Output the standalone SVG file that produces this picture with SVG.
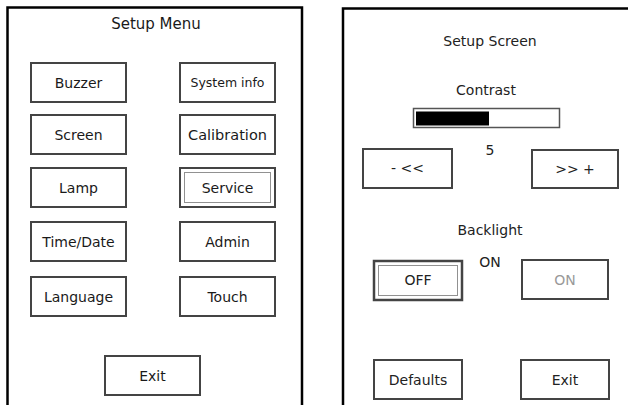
<svg xmlns="http://www.w3.org/2000/svg" width="628" height="405" viewBox="0 0 628 405">
<style>
.panel{fill:none;stroke:#000;stroke-width:2.5}
.btn{fill:#fff;stroke:#444;stroke-width:2}
.focus{fill:none;stroke:#222;stroke-width:1;stroke-dasharray:1 1}
.t{font-family:"DejaVu Sans",sans-serif;font-size:14px;fill:#1a1a1a;text-anchor:middle}
.r{font-family:"DejaVu Sans",sans-serif;font-size:14px;fill:#222;text-anchor:middle}
</style>
<rect width="628" height="405" fill="#fff"/>
<g id="left-panel">
<path class="panel" d="M7.5 410 V7.5 H302 V410"/>
<text class="t" x="156" y="29" style="font-size:15px">Setup Menu</text>
</g>
<g id="buzzer"><rect class="btn" x="31" y="63" width="95" height="39"/><text class="t" x="78.5" y="87.5">Buzzer</text></g>
<g id="system-info"><rect class="btn" x="180" y="63" width="95" height="39"/><text class="t" x="227.5" y="87" style="font-size:12.5px">System info</text></g>
<g id="screen"><rect class="btn" x="31" y="115" width="95" height="39"/><text class="t" x="78.5" y="139.5">Screen</text></g>
<g id="calibration"><rect class="btn" x="180" y="115" width="95" height="39"/><text class="t" x="227.5" y="139.5" style="font-size:14.5px">Calibration</text></g>
<g id="lamp"><rect class="btn" x="31" y="168" width="95" height="39"/><text class="t" x="78.5" y="192.5">Lamp</text></g>
<g id="service"><rect class="btn" x="180" y="168" width="95" height="39"/><rect class="focus" x="184.5" y="172.5" width="86" height="30"/><text class="t" x="227.5" y="192.5">Service</text></g>
<g id="time-date"><rect class="btn" x="31" y="222" width="95" height="39"/><text class="t" x="78.5" y="246.5">Time/Date</text></g>
<g id="admin"><rect class="btn" x="180" y="222" width="95" height="39"/><text class="t" x="227.5" y="246.5">Admin</text></g>
<g id="language"><rect class="btn" x="31" y="277" width="95" height="39"/><text class="t" x="78.5" y="301.5">Language</text></g>
<g id="touch"><rect class="btn" x="180" y="277" width="95" height="39"/><text class="t" x="227.5" y="301.5">Touch</text></g>
<g id="exit-left"><rect class="btn" x="105" y="356" width="95" height="39"/><text class="t" x="152.5" y="380.5">Exit</text></g>

<g id="right-panel">
<path class="panel" d="M343 410 V8.5 H630"/>
<text class="r" x="490" y="46">Setup Screen</text>
<text class="r" x="486" y="95">Contrast</text>
</g>
<g id="contrast-bar">
<rect x="413.5" y="108.5" width="146" height="19" fill="#fff" stroke="#555" stroke-width="1.5"/>
<rect x="416" y="111.5" width="73" height="14" fill="#000"/>
</g>
<g id="value"><text class="r" x="490" y="155">5</text></g>
<g id="minus"><rect class="btn" x="363" y="149" width="89" height="39"/><text class="r" x="407.5" y="173">- &lt;&lt;</text></g>
<g id="plus"><rect class="btn" x="532" y="150" width="86" height="38"/><text class="r" x="575" y="173.5">&gt;&gt; +</text></g>
<g id="backlight-label"><text class="r" x="490" y="235">Backlight</text></g>
<g id="on-label"><text class="r" x="490" y="267">ON</text></g>
<g id="off"><rect x="374" y="261" width="88" height="39" fill="#fff" stroke="#444" stroke-width="2.5"/><rect class="focus" x="378.5" y="265.5" width="79" height="30"/><text class="r" x="418" y="285">OFF</text></g>
<g id="on"><rect class="btn" x="522" y="260" width="86" height="39"/><text class="r" x="565" y="284.5" style="fill:#999">ON</text></g>
<g id="defaults"><rect class="btn" x="374" y="360" width="88" height="39"/><text class="r" x="418" y="384.5">Defaults</text></g>
<g id="exit-right"><rect class="btn" x="521" y="360" width="88" height="39"/><text class="r" x="565" y="384.5">Exit</text></g>
<g id="connectors"/>
</svg>
